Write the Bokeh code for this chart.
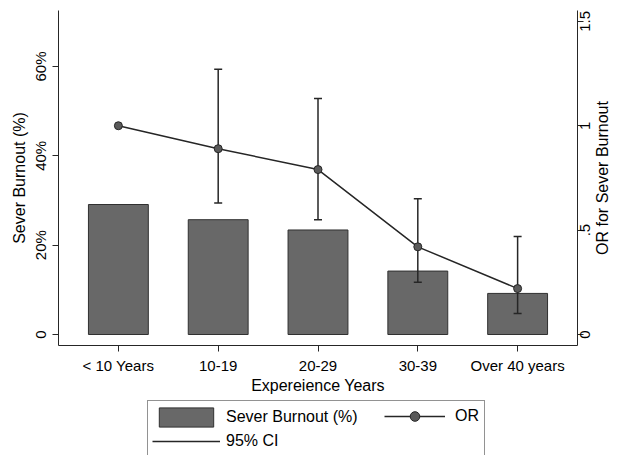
import math
from bokeh.plotting import figure
from bokeh.layouts import column
from bokeh.models import (Range1d, LinearAxis, FixedTicker, Legend, LegendItem,
                          ColumnDataSource, Label)
from bokeh.embed import file_html
from bokeh.resources import INLINE

# ---- data ----
categories = ["< 10 Years", "10-19", "20-29", "30-39", "Over 40 years"]
positions = [1, 2, 3, 4, 5]
burnout_pct = [29.1, 25.7, 23.4, 14.2, 9.2]
odds_ratio = [1.0, 0.89, 0.79, 0.42, 0.22]
nan = float("nan")
ci_low = [nan, 0.63, 0.55, 0.25, 0.10]
ci_high = [nan, 1.27, 1.13, 0.65, 0.47]

left_ticks = [0, 20, 40, 60]
left_tick_labels = ["0", "20%", "40%", "60%"]
right_ticks = [0, 0.5, 1, 1.5]
right_tick_labels = ["0", ".5", "1", "1.5"]

FONT = "Liberation Sans"
DARK = "#262626"
BAR_FILL = "#686868"
BAR_LINE = "#303030"
MARK_FILL = "#5a5a5a"

FRAME_TOP, FRAME_BOTTOM = 10, 345          # pixel rows of the plot frame
RIGHT_LABEL_PX = 15

src = ColumnDataSource(dict(x=positions, pct=burnout_pct, orr=odds_ratio,
                            lo=ci_low, hi=ci_high))

p = figure(width=618, height=398, output_backend="svg", toolbar_location=None,
           x_range=Range1d(0.4, 5.6), y_range=Range1d(-2.46, 72.53),
           min_border_left=58, min_border_right=41, min_border_top=FRAME_TOP,
           min_border_bottom=53)
or_range = Range1d(-0.0527, 1.552)
p.extra_y_ranges = {"or": or_range}
p.background_fill_color = "white"
p.border_fill_color = "white"
p.outline_line_color = None
p.xgrid.visible = False
p.ygrid.visible = False

p.vbar(x="x", top="pct", bottom=0, width=0.6, source=src,
       fill_color=BAR_FILL, line_color=BAR_LINE, line_width=1)
p.segment(x0="x", y0="lo", x1="x", y1="hi", source=src, y_range_name="or",
          line_color=DARK, line_width=1.5)
p.scatter(x="x", y="lo", source=src, y_range_name="or", marker="dash", size=8,
          line_color=DARK, line_width=1.5)
p.scatter(x="x", y="hi", source=src, y_range_name="or", marker="dash", size=8,
          line_color=DARK, line_width=1.5)
p.line(x="x", y="orr", source=src, y_range_name="or", line_color=DARK,
       line_width=1.5)
p.scatter(x="x", y="orr", source=src, y_range_name="or", size=8,
          fill_color=MARK_FILL, line_color=DARK, line_width=1)

def style_axis(ax):
    ax.axis_line_color = DARK
    ax.major_tick_line_color = DARK
    ax.minor_tick_line_color = None
    ax.major_tick_out = 6
    ax.major_tick_in = 0
    ax.major_label_text_font = FONT
    ax.major_label_text_font_size = "15px"
    ax.major_label_text_color = "black"
    ax.axis_label_text_font = FONT
    ax.axis_label_text_font_size = "16px"
    ax.axis_label_text_font_style = "normal"
    ax.axis_label_text_color = "black"

xa = p.xaxis[0]
style_axis(xa)
xa.ticker = FixedTicker(ticks=positions)
xa.major_label_overrides = {pos: lab for pos, lab in zip(positions, categories)}
xa.axis_label = "Expereience Years"
xa.major_label_standoff = 5
xa.axis_label_standoff = 0

ya = p.yaxis[0]
style_axis(ya)
ya.ticker = FixedTicker(ticks=left_ticks)
ya.major_label_overrides = {t: lab for t, lab in zip(left_ticks, left_tick_labels)}
ya.major_label_orientation = "parallel"
ya.axis_label = "Sever Burnout (%)"
ya.major_label_standoff = 3
ya.axis_label_standoff = 2

# right axis 1: line + ticks
ra = LinearAxis(y_range_name="or")
style_axis(ra)
ra.ticker = FixedTicker(ticks=right_ticks)
ra.major_label_text_font_size = "0px"
ra.major_label_text_color = None
ra.major_label_standoff = 0
p.add_layout(ra, "right")

# right axis 2: the tick labels, read bottom-to-top.  Bokeh starts such a
# rotated label at its tick, so each one is moved down by half its own length
# (Arial/Liberation advance widths) to sit centred on the tick.
ADV = {".": 0.278}
px_per_unit = (FRAME_BOTTOM - FRAME_TOP) / (or_range.end - or_range.start)
def half_len_units(s):
    return sum(ADV.get(c, 0.556) for c in s) * RIGHT_LABEL_PX / 2 / px_per_unit
label_pos = [t - half_len_units(s) for t, s in zip(right_ticks, right_tick_labels)]
ra2 = LinearAxis(y_range_name="or")
style_axis(ra2)
ra2.axis_line_color = None
ra2.major_tick_line_color = None
ra2.major_tick_out = 0
ra2.ticker = FixedTicker(ticks=label_pos)
ra2.major_label_overrides = {lp_: s for lp_, s in zip(label_pos, right_tick_labels)}
ra2.major_label_orientation = math.pi / 2
ra2.major_label_standoff = 2
p.add_layout(ra2, "right")

p.add_layout(Label(x=4, y=(or_range.start + or_range.end) / 2, x_units="screen",
                   y_range_name="or", text="OR for Sever Burnout",
                   angle=math.pi / 2, text_align="center",
                   text_baseline="middle", text_font=FONT,
                   text_font_size="16px", text_color="black"), "right")

# ---- legend strip (separate small plot so the legend is not clipped) ----
lp = figure(width=618, height=57, output_backend="svg", toolbar_location=None,
            x_range=Range1d(100, 101), y_range=Range1d(100, 101),
            x_axis_location=None, y_axis_location=None,
            min_border=0, min_border_left=0, min_border_right=0,
            min_border_top=0, min_border_bottom=0)
lp.outline_line_color = None
lp.xgrid.visible = False
lp.ygrid.visible = False
lp.background_fill_color = "white"
lp.border_fill_color = "white"

# legend proxies: same data and styles, outside this strip's visible ranges
lg_bar = lp.vbar(x="x", top="pct", width=0.6, source=src, fill_color=BAR_FILL,
                 line_color=BAR_LINE, line_width=1)
lg_ci = lp.segment(x0="x", y0="lo", x1="x", y1="hi", source=src,
                   line_color=DARK, line_width=1.5)
lg_ln = lp.line(x="x", y="orr", source=src, line_color=DARK, line_width=1.5)
lg_mk = lp.scatter(x="x", y="orr", source=src, size=8, fill_color=MARK_FILL,
                   line_color=DARK, line_width=1)

legA = Legend(items=[LegendItem(label="Sever Burnout (%)", renderers=[lg_bar]),
                     LegendItem(label="95% CI", renderers=[lg_ci])],
              location=(89, -3), orientation="vertical",
              glyph_width=68, glyph_height=24, label_standoff=6,
              label_width=254, label_height=24, spacing=0, padding=4, margin=0,
              border_line_color=DARK, border_line_width=1,
              background_fill_color="white", background_fill_alpha=1,
              label_text_font=FONT, label_text_font_size="16px",
              label_text_color="black")
legB = Legend(items=[LegendItem(label="OR", renderers=[lg_ln, lg_mk])],
              location=(326, 27), orientation="vertical",
              glyph_width=61, glyph_height=24, label_standoff=10,
              label_height=24, spacing=0, padding=0, margin=0,
              border_line_color=None, background_fill_alpha=0,
              label_text_font=FONT, label_text_font_size="16px",
              label_text_color="black")
lp.add_layout(legA, "center")
lp.add_layout(legB, "center")

layout = column(p, lp, spacing=0)
open("out.html", "w").write(file_html(layout, INLINE))
